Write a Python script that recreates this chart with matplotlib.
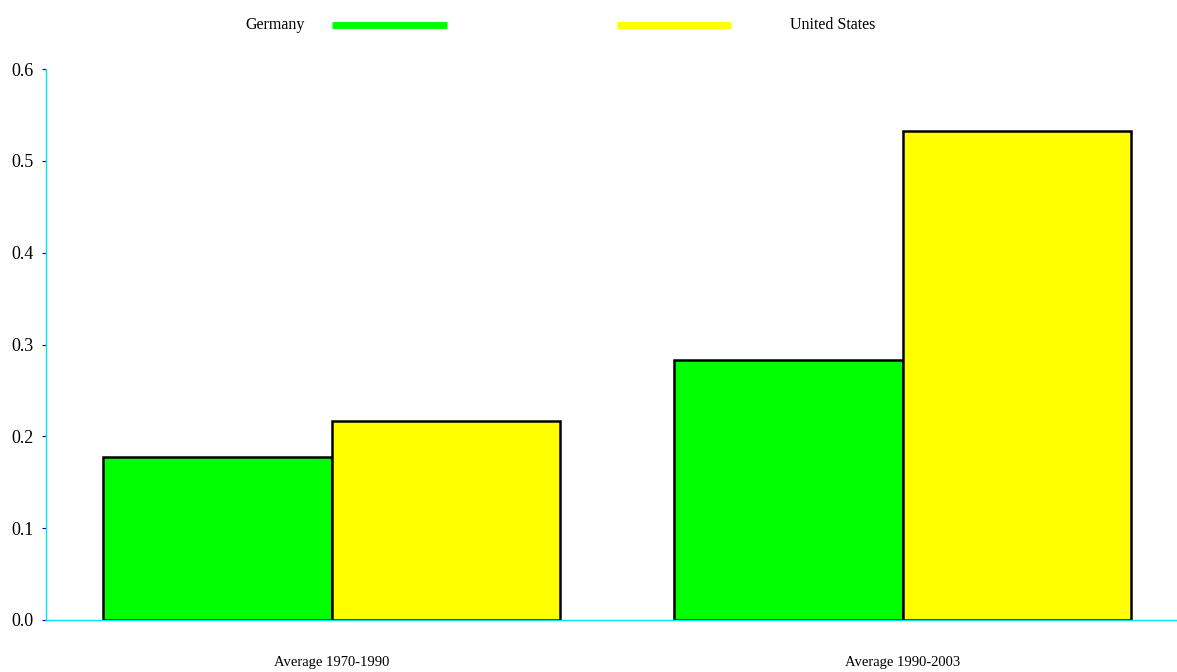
import numpy as np
import matplotlib.pyplot as plt
from matplotlib.lines import Line2D

periods = ["Average 1970-1990", "Average 1990-2003"]
countries = ["Germany", "United States"]
germany = [0.177, 0.283]
united_states = [0.217, 0.532]
colors = ["#00ff00", "#ffff00"]
y_ticks = [0.0, 0.1, 0.2, 0.3, 0.4, 0.5, 0.6]

plt.rcParams['font.family'] = ['Liberation Serif', 'DejaVu Serif']

fig = plt.figure(figsize=(11.77, 6.72), dpi=100)
ax = fig.add_axes([46 / 1177, 52 / 672, 1 - 46 / 1177, 551 / 672])

x = np.arange(len(periods))
w = 0.4
ax.bar(x - w / 2, germany, w, color=colors[0], edgecolor="black", linewidth=1.8)
ax.bar(x + w / 2, united_states, w, color=colors[1], edgecolor="black", linewidth=1.8)

ax.set_xlim(-0.5, 1.48)
ax.set_ylim(0, 0.6)
ax.set_xticks(x)
ax.set_xticklabels(periods, fontsize=10.5)
ax.tick_params(axis='x', length=0, pad=26)
ax.set_yticks(y_ticks)
ax.set_yticklabels(["%.1f" % t for t in y_ticks], fontsize=13)
ax.tick_params(axis='y', length=3, color="#0000aa", pad=6)

for s in ["top", "right"]:
    ax.spines[s].set_visible(False)
for s in ["left", "bottom"]:
    ax.spines[s].set_color("#00e5ee")
    ax.spines[s].set_linewidth(1.0)

# legend drawn across the top
fig.text(275 / 1177, 1 - 25 / 672, countries[0], fontsize=11.5, ha="center", va="center")
fig.text(833 / 1177, 1 - 25 / 672, countries[1], fontsize=11.5, ha="center", va="center")
fig.add_artist(Line2D([332 / 1177, 447 / 1177], [1 - 25 / 672] * 2, color=colors[0], linewidth=5, solid_capstyle="butt"))
fig.add_artist(Line2D([617 / 1177, 731 / 1177], [1 - 25 / 672] * 2, color=colors[1], linewidth=5, solid_capstyle="butt"))

plt.savefig("out.png", dpi=100)
